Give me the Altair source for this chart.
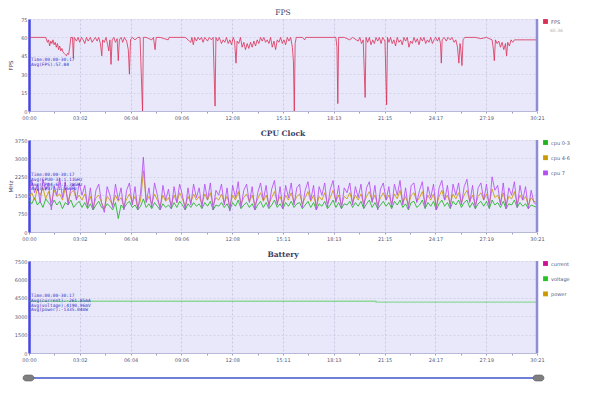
import altair as alt
import pandas as pd

# ---------------- data ----------------
x_tick_labels = ["00:00", "03:02", "06:04", "09:06", "12:08", "15:11",
                 "18:13", "21:15", "24:17", "27:19", "30:21"]
duration = 1821  # seconds (30:21)

fps_time = [0, 60, 66, 70, 74, 78, 82, 86, 90, 94, 98, 102, 106, 110, 114, 118, 122, 126, 130, 134,
            138, 142, 146, 150, 156, 159, 162,
            170, 176, 182, 188, 194, 200, 206, 212, 220, 226, 232, 238, 244, 250, 256, 261, 264, 270, 276, 282,
            286, 290, 294, 298, 304, 310, 316, 320, 324, 330, 336, 342, 350, 356, 360, 364, 370, 380, 390, 398,
            407, 410,
            420, 440, 446, 452, 456, 470, 499, 502, 560, 580, 584, 589, 594, 600, 606, 612, 618, 624, 630, 640,
            646, 654, 660, 667, 670, 676, 682, 690, 696,
            702, 708, 714, 720, 726, 732, 737, 742, 746, 752, 758, 764, 770, 776, 782, 788, 794, 800, 806, 812,
            818, 824, 830, 836, 842, 848, 854, 860, 866, 872, 878, 884, 890, 896, 902, 908, 914, 920, 926, 932,
            938, 944, 948, 951, 954, 958,
            980, 988, 992, 1100, 1104, 1107, 1110, 1130, 1150, 1160, 1180, 1186, 1192, 1198, 1205, 1208, 1214,
            1220, 1226, 1232, 1238, 1244, 1250, 1256, 1262, 1268, 1276, 1282, 1285, 1290, 1296,
            1302, 1308, 1314, 1320, 1326, 1332, 1338, 1344, 1350, 1356, 1362, 1368, 1374, 1380, 1386, 1392, 1398,
            1404, 1410, 1416, 1422, 1428, 1434, 1440, 1446, 1452, 1458, 1464, 1470, 1475, 1478, 1481, 1488, 1496,
            1502, 1510, 1516, 1524, 1530, 1536, 1541, 1545, 1548, 1552, 1556, 1562,
            1600, 1620, 1640, 1660, 1665, 1668, 1672, 1678, 1684, 1690, 1696, 1702, 1708, 1712, 1716, 1722, 1728,
            1734, 1740, 1760, 1780, 1800, 1821]
fps_value = [60, 60, 56, 58, 53, 57, 55, 58, 54, 56, 52, 55, 50, 53, 49, 51, 48, 47, 46, 45,
             47, 46, 52, 60, 60, 43, 60,
             57, 60, 56, 60, 58, 55, 60, 57, 60, 56, 58, 60, 57, 60, 55, 45, 58, 56, 60, 54,
             49, 58, 38, 58, 60, 56, 59, 41, 58, 60, 56, 60, 57, 50, 30, 58, 60, 58, 60, 60,
             0, 60,
             60, 58, 60, 50, 60, 60, 58, 60, 60, 56, 60, 54, 60, 57, 60, 58, 60, 56, 60, 57,
             60, 58, 60, 4, 60, 57, 60, 55, 58,
             56, 60, 55, 58, 54, 60, 57, 39, 57, 55, 60, 52, 56, 50, 55, 51, 56, 52, 57, 53,
             58, 55, 60, 57, 60, 56, 58, 55, 60, 52, 57, 50, 58, 56, 60, 55, 58, 54, 60, 57,
             60, 52, 40, 0, 55, 60,
             60, 58, 60, 60, 52, 6, 60, 60, 58, 60, 57, 60, 55, 58, 11, 60, 56,
             60, 54, 58, 55, 60, 57, 60, 55, 60, 57, 5, 60, 56, 60,
             55, 58, 53, 60, 56, 58, 54, 60, 57, 60, 52, 57, 55, 60, 56, 59, 54,
             60, 57, 60, 55, 58, 56, 60, 55, 58, 60, 57, 60, 55, 39, 58, 60, 57,
             60, 58, 60, 56, 58, 52, 39, 55, 50, 37, 58, 60,
             60, 59, 60, 58, 50, 41, 58, 55, 57, 52, 56, 50, 55, 45, 56, 53, 58,
             56, 58, 58, 58, 58, 58]

cpu_time = list(range(0, 1821, 10))
cpu_0_3 = [1300, 1150, 1400, 1100, 1250, 1000, 1350, 1200, 1050, 1300, 1100, 1250, 950, 1200, 1100, 1300, 1000, 1150, 1250,
           1000, 1200, 950, 1150, 900, 1100, 1250, 1000, 950, 1150, 1050, 900, 1200, 550, 1100, 950, 1150, 1250, 1000, 1100, 900, 1050,
           1350,
           1000, 1150, 950, 1200, 1050, 900, 1150, 1000, 1100, 950, 1200, 1000, 1250, 1100, 900, 1150, 1000, 1200, 1050,
           1150, 950, 1200, 1050, 1250, 900, 1100, 1050, 1200, 1000, 1150, 900, 1200, 1050, 1300, 950, 1100, 1200, 1000, 1150, 900, 1100, 1250, 1000, 1200, 950, 1100, 1300, 1000, 1150,
           950, 1200, 1050, 1250, 1000, 1150, 1200, 950, 1100, 1250, 1000, 1200, 900, 1150, 1050, 1250, 950, 1100, 1300, 1000, 1200, 950, 1150, 1100, 1250, 1000, 1200, 1050, 1250, 950,
           1150, 1300, 1000, 1200, 950, 1100, 1250, 1050, 1200, 950, 1250, 1100, 1300, 1000, 1150, 900, 1200, 1250, 1000, 1100, 1300, 950, 1200, 1050, 1250, 900, 1150, 1300, 1050, 1200,
           950, 1250, 1100, 1300, 1000, 1200, 1300, 1000, 1200, 950, 1150, 1250, 1050, 1250, 950, 1300, 1100, 1200, 1000, 1250, 950, 1150, 1100, 1300, 1000, 1200, 1050, 1150, 950, 1100, 1050, 1000]
cpu_4_6 = [1400, 1600, 1300, 1750, 1500, 1800, 1350, 1650, 1200, 1700, 1450, 1550, 1300, 1800, 1250, 1600, 1700, 1350, 1500,
           1300, 1550, 1100, 1450, 1000, 1400, 1500, 1200, 950, 1450, 1300, 1100, 1500, 1250, 1400, 1050, 1350, 1550, 1200, 1450, 1000, 1300,
           2500,
           1250, 1450, 1150, 1550, 1300, 1050, 1500, 1250, 1400, 1100, 1500, 1200, 1600, 1350, 1050, 1450, 1200, 1550, 1300,
           1450, 1150, 1550, 1300, 1600, 1100, 1400, 1300, 1550, 1200, 1450, 1050, 1500, 1300, 1650, 1150, 1400, 1550, 1250, 1500, 1100, 1350, 1600, 1250, 1500, 1150, 1400, 1650, 1200, 1450,
           1100, 1500, 1300, 1600, 1200, 1450, 1550, 1150, 1400, 1650, 1250, 1500, 1050, 1450, 1300, 1600, 1150, 1400, 1700, 1250, 1500, 1100, 1450, 1350, 1600, 1200, 1500, 1300, 1550, 1150,
           1450, 1650, 1250, 1500, 1100, 1400, 1600, 1300, 1500, 1150, 1550, 1350, 1700, 1200, 1450, 1100, 1500, 1600, 1250, 1400, 1650, 1150, 1500, 1300, 1550, 1050, 1450, 1700, 1300, 1500,
           1150, 1550, 1350, 1600, 1200, 1500, 1700, 1250, 1500, 1100, 1450, 1600, 1300, 1550, 1150, 1750, 1400, 1500, 1200, 1600, 1100, 1450, 1350, 1650, 1150, 1500, 1300, 1450, 1100, 1400, 1250, 1200]
cpu_7 = [1500, 2100, 1600, 1950, 1200, 2150, 1700, 2000, 900, 1900, 1500, 2200, 1400, 2050, 1100, 1800, 1950, 1300, 2000,
         1500, 1900, 1000, 1800, 900, 1700, 1950, 1200, 800, 1850, 1500, 1000, 1950, 1300, 1800, 900, 1700, 2000, 1100, 1850, 900, 1600,
         3050,
         1200, 1800, 1000, 2000, 1500, 900, 1900, 1300, 1750, 950, 1850, 1200, 1950, 1500, 900, 1800, 1100, 1950, 1400,
         1800, 1000, 1950, 1300, 2000, 900, 1700, 1500, 1950, 1100, 1800, 850, 1900, 1400, 2050, 1000, 1700, 1950, 1200, 1850, 900, 1600, 2000, 1300, 1900, 1000, 1750, 2100, 1100, 1850,
         950, 1900, 1400, 2000, 1100, 1800, 1950, 1000, 1700, 2050, 1300, 1900, 900, 1850, 1500, 2000, 1000, 1750, 2100, 1200, 1900, 950, 1800, 1600, 2000, 1100, 1850, 1400, 1950, 1000,
         1800, 2050, 1200, 1900, 900, 1750, 2000, 1300, 1850, 1000, 1950, 1500, 2100, 1100, 1800, 950, 1900, 2000, 1200, 1700, 2050, 1000, 1850, 1400, 1950, 900, 1800, 2100, 1300, 1900,
         1000, 1950, 1500, 2000, 1100, 1850, 2150, 1200, 1900, 950, 1800, 2000, 1300, 1950, 1000, 2250, 1700, 1900, 1100, 2000, 950, 1800, 1500, 2050, 1000, 1900, 1300, 1850, 950, 1700, 1200, 1100]

bat_time = [0, 1244, 1821]
bat_voltage = [4222, 4150, 4150]

fps_notes = ["Time:00:00-30:17", "Avg(FPS):57.84"]
cpu_notes = ["Time:00:00-30:17", "Avg(CPU0-3):1.11GHz", "Avg(CPU4-6):1.38GHz", "Avg(CPU7):1.56GHz"]
bat_notes = ["Time:00:00-30:17", "Avg(current):-261.85mA", "Avg(voltage):4190.96mV", "Avg(power):-1335.04mW"]

cpu_series = ["cpu 0-3", "cpu 4-6", "cpu 7"]
bat_series = ["current", "voltage", "power"]

# ---------------- tables ----------------
fps_df = pd.DataFrame({"t": fps_time, "v": fps_value, "s": "FPS"})
cpu_df = pd.concat([
    pd.DataFrame({"t": cpu_time, "v": vals, "s": name})
    for name, vals in zip(cpu_series, [cpu_0_3, cpu_4_6, cpu_7])
])
bat_df = pd.DataFrame({"t": bat_time, "v": bat_voltage, "s": "voltage"})

W, H = 508, 92
x_vals = [duration * i / 20 for i in range(21)]
lab_arr = "[" + ",".join("'%s'" % s for s in x_tick_labels) + "]"
is_major = "round(datum.value*20/%d) %% 2 == 0" % duration
label_expr = "%s ? %s[round(datum.value*10/%d)] : ''" % (is_major, lab_arr, duration)

AX_FONT = "DejaVu Sans"
LAB_COL = "#55597a"


def x_enc():
    return alt.X("t:Q",
                 scale=alt.Scale(domain=[0, duration], nice=False, zero=False),
                 axis=alt.Axis(values=x_vals, labelExpr=label_expr, title=None,
                               grid=True,
                               gridOpacity={"condition": {"test": is_major, "value": 1}, "value": 0},
                               gridDash=[2, 2], gridColor="#b4b4d6", gridWidth=0.6,
                               tickSize=2, tickColor="#9a9ac0", domainColor="#b8b8d8",
                               labelFontSize=5, labelFont=AX_FONT, labelColor=LAB_COL,
                               labelFlush=False, labelPadding=2, labelOverlap=False))


def y_enc(dom, step, ytitle):
    vals = [step * i for i in range(6)]
    return alt.Y("v:Q",
                 scale=alt.Scale(domain=dom, nice=False),
                 axis=alt.Axis(values=vals, format="d", title=ytitle, titleX=-19, titleY=H / 2,
                               titleAngle=270, titleAlign="center", titleBaseline="middle",
                               titleFontSize=5.5, titleFontWeight="normal", titleFont=AX_FONT,
                               titleColor="#44476a", ticks=False, labelFontSize=5,
                               labelFont=AX_FONT, labelColor=LAB_COL, labelPadding=2,
                               domainColor="#4646e0", domainWidth=2.5,
                               gridDash=[2, 2], gridColor="#c6c6e0", gridWidth=0.6))


def legend():
    return alt.Legend(title=None, orient="right", offset=6, padding=0,
                      symbolType="square", symbolSize=5, symbolStrokeWidth=2.6,
                      symbolOpacity=1,
                      labelFontSize=5, labelFont=AX_FONT, labelColor=LAB_COL,
                      rowPadding=2.2, labelOffset=3)


def notes_layer(lines, y0):
    return alt.Chart(pd.DataFrame({"k": [0]})).mark_text(
        align="left", baseline="top", fontSize=4.5, lineHeight=4.8,
        font="DejaVu Sans Mono", color="#3030c8"
    ).encode(x=alt.value(2), y=alt.value(y0), text=alt.value(lines))


def right_edge():
    return alt.Chart(pd.DataFrame({"k": [0]})).mark_rule(
        color="#8d8dd6", strokeWidth=2.5
    ).encode(x=alt.value(W), y=alt.value(0), y2=alt.value(H))


def title(text, bold):
    return alt.TitleParams(text, fontSize=7.5, font="DejaVu Serif",
                           fontWeight="bold" if bold else "normal",
                           color="#3a3d66", offset=1, anchor="middle")


# ---------------- FPS ----------------
fps_line = alt.Chart(fps_df).mark_line(strokeWidth=0.8, clip=True).encode(
    x=x_enc(), y=y_enc([0, 75], 15, "FPS"),
    color=alt.Color("s:N", scale=alt.Scale(domain=["FPS"], range=["#dc2f57"]), legend=legend()),
)
fps_extra = alt.Chart(pd.DataFrame({"k": [0]})).mark_text(
    align="left", baseline="middle", fontSize=4.5, font=AX_FONT, color="#b0b0b8"
).encode(x=alt.value(521), y=alt.value(12), text=alt.value("60.36"))
fps_panel = alt.layer(fps_line, right_edge(), notes_layer(fps_notes, 38), fps_extra).properties(
    width=W, height=H, title=title("FPS", False))

# ---------------- CPU ----------------
cpu_line = alt.Chart(cpu_df).mark_line(strokeWidth=0.85, clip=True).encode(
    x=x_enc(), y=y_enc([0, 3750], 750, "MHz"),
    color=alt.Color("s:N", scale=alt.Scale(domain=cpu_series,
                                           range=["#1fb41f", "#cc9a00", "#b64ef2"]),
                    legend=legend()),
)
cpu_panel = alt.layer(cpu_line, right_edge(), notes_layer(cpu_notes, 32)).properties(
    width=W, height=H, title=title("CPU Clock", True))

# ---------------- Battery ----------------
bat_line = alt.Chart(bat_df).mark_line(strokeWidth=1.4, opacity=0.45, interpolate="step-after",
                                       clip=True).encode(
    x=x_enc(), y=y_enc([0, 7500], 1500, None),
    color=alt.Color("s:N", scale=alt.Scale(domain=bat_series,
                                           range=["#cc1199", "#22c322", "#cc9900"]),
                    legend=legend()),
)
slider_line = alt.Chart(pd.DataFrame({"k": [0]})).mark_rule(
    color="#6f7fd8", strokeWidth=2
).encode(x=alt.value(0), x2=alt.value(510), y=alt.value(117))
slider_left = alt.Chart(pd.DataFrame({"k": [0]})).mark_rect(
    color="#7f7f7f", stroke="#606060", strokeWidth=0.6, cornerRadius=3
).encode(x=alt.value(-6), x2=alt.value(5), y=alt.value(114), y2=alt.value(120))
slider_right = alt.Chart(pd.DataFrame({"k": [0]})).mark_rect(
    color="#7f7f7f", stroke="#606060", strokeWidth=0.6, cornerRadius=3
).encode(x=alt.value(504), x2=alt.value(515), y=alt.value(114), y2=alt.value(120))
bat_panel = alt.layer(bat_line, right_edge(), notes_layer(bat_notes, 32),
                      slider_line, slider_left, slider_right).properties(
    width=W, height=H, title=title("Battery", True))

chart = alt.vconcat(fps_panel, cpu_panel, bat_panel, spacing=9).resolve_scale(
    color="independent"
).properties(
    padding={"left": 0, "top": 0, "right": 0, "bottom": 0},
    background="white",
).configure_view(
    fill="#e8e8fa", stroke=None
)

chart.save("out.html", embed_options={"renderer": "svg", "actions": False})
